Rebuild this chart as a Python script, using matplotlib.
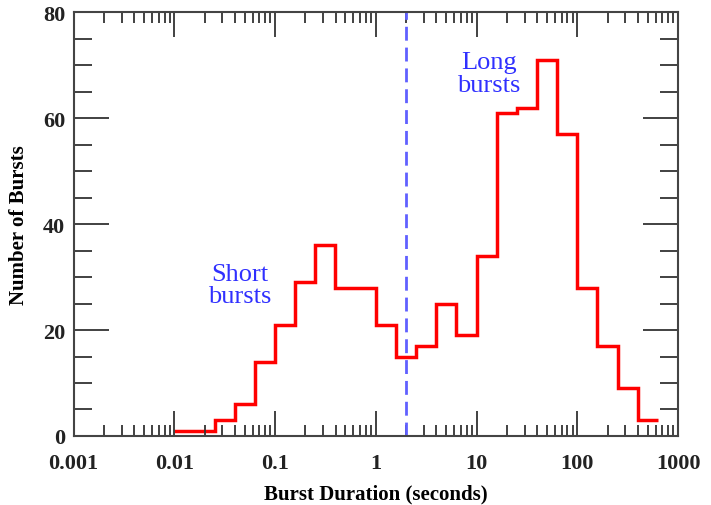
import numpy as np
import matplotlib
matplotlib.use("Agg")
from matplotlib import pyplot as plt
from matplotlib.ticker import MultipleLocator, LogLocator, FixedLocator

# Burst counts per 0.2-dex duration bin, starting at 0.01 s
log_edges = np.round(np.arange(-2.0, 2.81, 0.2), 1)
counts = [1, 1, 3, 6, 14, 21, 29, 36, 28, 28, 21, 15,
          17, 25, 19, 34, 61, 62, 71, 57, 28, 17, 9, 3]
edges = 10.0 ** log_edges

divide_at = 2.0  # seconds
x_ticks = [0.001, 0.01, 0.1, 1, 10, 100, 1000]
x_tick_labels = ["0.001", "0.01", "0.1", "1", "10", "100", "1000"]
y_ticks = [0, 20, 40, 60, 80]

plt.rcParams['font.family'] = ['Liberation Serif', 'DejaVu Serif']
plt.rcParams['font.weight'] = 'bold'

fig = plt.figure(figsize=(7.11, 5.06), dpi=100)
ax = fig.add_axes([0.1034, 0.1364, 0.8502, 0.8376])

ax.stairs(counts, edges, baseline=None, color='#ff0000', linewidth=2.5)
ax.axvline(divide_at, color='#6060ff', linewidth=2.0, linestyle=(0, (5, 2.5)))

ax.set_xscale('log')
ax.set_xlim(0.001, 1000)
ax.set_ylim(0, 80)
ax.xaxis.set_major_locator(FixedLocator(x_ticks))
ax.set_xticklabels(x_tick_labels)
ax.xaxis.set_minor_locator(LogLocator(base=10, subs=np.arange(2, 10)))
ax.yaxis.set_major_locator(FixedLocator(y_ticks))
ax.yaxis.set_minor_locator(MultipleLocator(5))

ax.tick_params(which='both', direction='in', top=True, right=True, colors='#333333',
               labelcolor='#222222', labelsize=16)
ax.tick_params(axis='y', which='major', length=25, width=1.3, pad=6)
ax.tick_params(axis='y', which='minor', length=13, width=1.3)
ax.tick_params(axis='x', which='major', length=18, width=1.3, pad=12)
ax.tick_params(axis='x', which='minor', length=8, width=1.3)
for sp in ax.spines.values():
    sp.set_color('#444444')
    sp.set_linewidth(1.5)

ax.set_xlabel("Burst Duration (seconds)", fontsize=15, fontweight='bold', labelpad=8)
ax.set_ylabel("Number of Bursts", fontsize=15, fontweight='bold', labelpad=10)

ax.text(0.045, 28.5, "Short\nbursts", color='#3030ff', fontsize=19, fontweight='normal',
        ha='center', va='center', linespacing=1.05)
ax.text(13.3, 68.4, "Long\nbursts", color='#3030ff', fontsize=19, fontweight='normal',
        ha='center', va='center', linespacing=1.05)

fig.savefig("out.png", dpi=100)
